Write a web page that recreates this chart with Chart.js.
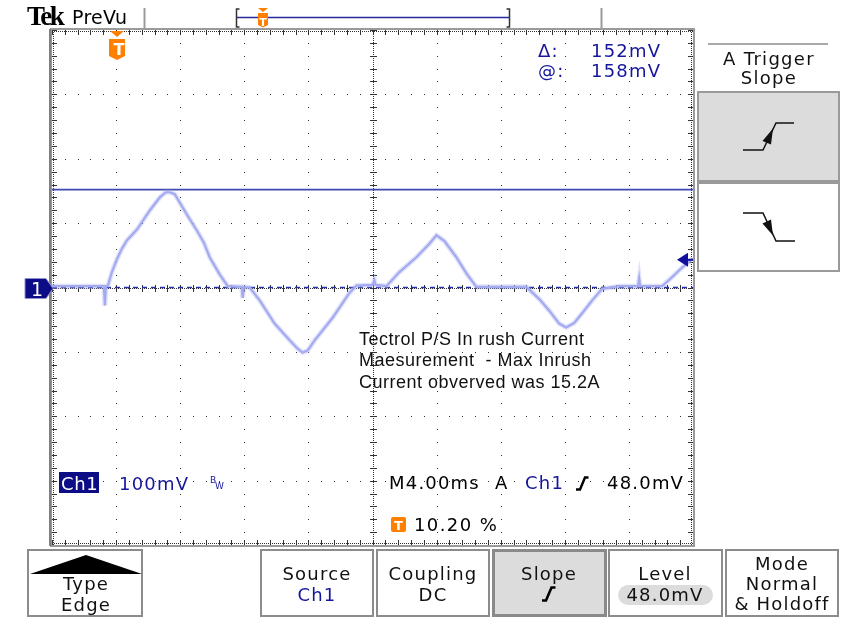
<!DOCTYPE html>
<html>
<head>
<meta charset="utf-8">
<script src="https://cdn.jsdelivr.net/npm/chart.js@4.4.0/dist/chart.umd.min.js"></script>
<style>
body{margin:0;background:#fff;width:861px;height:619px;overflow:hidden;position:relative;font-family:"DejaVu Sans",sans-serif}
#scope{position:absolute;left:0;top:0}
#deco{position:absolute;left:0;top:0}
.t{position:absolute;white-space:pre;line-height:1}
.btn{position:absolute;top:549px;height:68px;border:2px solid #8c8c8c;box-sizing:border-box;background:#fff}
</style>
</head>
<body>
<div class="btn" style="left:27px;width:116px"></div>
<div class="btn" style="left:260px;width:114px"></div>
<div class="btn" style="left:376px;width:114px"></div>
<div class="btn" style="left:492px;width:115px;background:#dcdcdc;border:3px solid #8a8a8a"></div>
<div class="btn" style="left:608px;width:115px"></div>
<div class="btn" style="left:725px;width:114px"></div>
<canvas id="scope" width="861" height="619"></canvas>
<svg id="deco" width="861" height="619">
  <line x1="144.5" y1="8" x2="144.5" y2="28" stroke="#9a9a9a" stroke-width="2"/>
  <line x1="601.5" y1="8" x2="601.5" y2="28" stroke="#9a9a9a" stroke-width="2"/>
  <path d="M239.5 9 H236.5 V27 H239.5" fill="none" stroke="#333" stroke-width="1.5"/>
  <path d="M506.5 9 H509.5 V27 H506.5" fill="none" stroke="#333" stroke-width="1.5"/>
  <line x1="237" y1="17.5" x2="509" y2="17.5" stroke="#2a2aa0" stroke-width="1.5"/>
  <path d="M258 8 H268 L263 12 Z" fill="#ff7f00"/>
  <path d="M258 13 H268 V25 L263 27.5 L258 25 Z" fill="#ff7f00"/>
  <line x1="708" y1="44" x2="828" y2="44" stroke="#a8a8a8" stroke-width="2"/>
  <rect x="698" y="92" width="141" height="89" fill="#dcdcdc" stroke="#9a9a9a" stroke-width="2"/>
  <rect x="698" y="183" width="141" height="88" fill="#fff" stroke="#9a9a9a" stroke-width="2"/>
  <polyline points="743,150 763,150 776,123 794,123" fill="none" stroke="#111" stroke-width="1.5"/>
  <polygon points="773,128.5 762.5,141 771,144.5" fill="#111"/>
  <polyline points="743,213 763,213 776,241 795,241" fill="none" stroke="#111" stroke-width="1.5"/>
  <polygon points="773,235.5 771,219.5 762.5,223.5" fill="#111"/>
  <path d="M30 574 L86 555 L142 574 Z" fill="#000"/>
  <rect x="618" y="585" width="95" height="20" rx="10" fill="#dcdcdc"/>
  <path d="M542 600.5 H546 L551.5 587.5 H555.5" fill="none" stroke="#000" stroke-width="2.6"/>
  <path d="M576 489.5 H580 L585 477.5 H588.5" fill="none" stroke="#000" stroke-width="2.4"/>
  <rect x="59" y="472" width="40" height="21" fill="#0c0c86"/>
  <rect x="391" y="517" width="15" height="15" rx="2" fill="#ff7f00"/>
</svg>
<script>
// Ch1 trace, time from the left edge of the screen (ms), voltage (mV)
const timeMs = [0, 1.74, 3.24, 3.30, 3.36, 3.49, 3.74, 4.05, 4.36, 4.67, 5.30, 6.11, 6.73, 7.10, 7.35, 7.66,
  8.16, 8.60, 9.03, 9.47, 9.84, 10.47, 10.97, 11.84, 11.90, 11.96, 12.34, 12.96, 13.89, 14.83, 15.33, 15.64,
  15.95, 16.39, 17.51, 18.57, 19.00, 20.00, 20.12, 20.19, 20.87, 21.68, 22.74, 23.55, 23.99, 24.49, 25.23,
  25.86, 26.48, 27.91, 29.60, 30.41, 31.03, 31.65, 32.09, 32.59, 33.08, 33.71, 34.33, 35.39, 36.57, 36.64,
  36.70, 38.07, 38.69, 39.32, 40.00]
const ch1mV = [2, 2, 2, -28, 2, 3, 24, 44, 60, 73, 90, 120, 140, 148, 148, 145,
  124, 106, 89, 70, 47, 20, 2, 1, -16, 1, 0, -20, -56, -82, -95, -101,
  -98, -82, -47, -8, 3, 4, 11, 4, 2, 24, 47, 68, 81, 72, 47,
  22, 1, 1, 1, -18, -36, -56, -62, -55, -40, -20, -2, 2, 2, 14,
  2, 2, 16, 31, 45]

const cursorA = 152      // solid cursor
const cursorB = 0        // dashed cursor
const trigTime = 4.08    // 10.20 % of 40 ms
const trigLevel = 43     // level arrow on the right edge

const msPerDiv = 4
const mvPerDiv = 100

const graticule = {
  id: 'graticule',
  beforeDatasetsDraw(chart) {
    const {ctx, chartArea: a, scales: {x, y}} = chart
    ctx.save()
    ctx.fillStyle = '#333'
    const minX = [], minY = []
    for (let i = 0; i <= 50; i++) minX.push(Math.round(x.getPixelForValue(i * msPerDiv / 5)))
    for (let j = 0; j <= 40; j++) minY.push(Math.round(y.getPixelForValue(-4 * mvPerDiv + j * mvPerDiv / 5)))
    // dotted major lines
    for (let i = 1; i < 10; i++) {
      const px = Math.round(x.getPixelForValue(i * msPerDiv))
      minY.forEach(py => ctx.fillRect(px, py, 1, 1))
    }
    for (let j = 1; j < 8; j++) {
      const py = Math.round(y.getPixelForValue(-4 * mvPerDiv + j * mvPerDiv))
      minX.forEach(px => ctx.fillRect(px, py, 1, 1))
    }
    // centre cross
    const cx = Math.round(x.getPixelForValue(5 * msPerDiv)), cy = Math.round(y.getPixelForValue(0))
    for (let py = a.top; py < a.bottom; py += 2) ctx.fillRect(cx, py, 1, 1)
    for (let px = a.left; px < a.right; px += 2) ctx.fillRect(px, cy, 1, 1)
    minY.forEach(py => ctx.fillRect(cx - 3, py, 7, 1))
    minX.forEach(px => ctx.fillRect(px, cy - 3, 1, 7))
    // edges
    const L = Math.round(a.left), R = Math.round(a.right), T = Math.round(a.top), B = Math.round(a.bottom)
    for (let px = L; px < R; px += 2) { ctx.fillRect(px, T + 1, 1, 1); ctx.fillRect(px, B - 2, 1, 1) }
    for (let py = T; py < B; py += 2) { ctx.fillRect(L + 1, py, 1, 1); ctx.fillRect(R - 2, py, 1, 1) }
    minX.forEach(px => { ctx.fillRect(px, T, 1, 5); ctx.fillRect(px, B - 5, 1, 5) })
    minY.forEach(py => { ctx.fillRect(L, py, 5, 1); ctx.fillRect(R - 5, py, 5, 1) })
    ctx.restore()
  },
  afterDatasetsDraw(chart) {
    const {ctx, chartArea: a, scales: {x, y}} = chart
    ctx.save()
    ctx.strokeStyle = '#9a9a9a'
    ctx.lineWidth = 2
    ctx.strokeRect(a.left - 1, a.top - 1, a.right - a.left + 2, a.bottom - a.top + 2)
    ctx.fillStyle = '#808080'
    ctx.fillRect(a.left - 3, a.top - 1, 2, a.bottom - a.top + 2)
    // trigger position marker
    const tx = Math.round(x.getPixelForValue(trigTime))
    ctx.fillStyle = '#ff7f00'
    ctx.beginPath()
    ctx.moveTo(tx - 7, a.top + 1); ctx.lineTo(tx + 7, a.top + 1); ctx.lineTo(tx, a.top + 7); ctx.closePath(); ctx.fill()
    ctx.beginPath()
    ctx.moveTo(tx - 8, a.top + 9); ctx.lineTo(tx + 8, a.top + 9); ctx.lineTo(tx + 8, a.top + 26)
    ctx.lineTo(tx, a.top + 30); ctx.lineTo(tx - 8, a.top + 26); ctx.closePath(); ctx.fill()
    // ground marker
    const gy = y.getPixelForValue(0) + 1
    ctx.fillStyle = '#0c0c86'
    ctx.strokeStyle = '#9090d0'
    ctx.lineWidth = 1
    ctx.beginPath()
    ctx.moveTo(25, gy - 10); ctx.lineTo(46, gy - 10); ctx.lineTo(53, gy); ctx.lineTo(46, gy + 10); ctx.lineTo(25, gy + 10)
    ctx.closePath(); ctx.fill(); ctx.stroke()
    // trigger level arrow
    const ly = y.getPixelForValue(trigLevel)
    ctx.fillStyle = '#10109a'
    ctx.beginPath()
    ctx.moveTo(a.right - 16, ly); ctx.lineTo(a.right - 5, ly - 7); ctx.lineTo(a.right - 5, ly + 7); ctx.closePath(); ctx.fill()
    ctx.fillRect(a.right - 6, ly - 1, 6, 2)
    ctx.restore()
  }
}

new Chart(document.getElementById('scope'), {
  type: 'line',
  data: {
    datasets: [
      {
        data: timeMs.map((t, i) => ({x: t, y: ch1mV[i]})),
        borderColor: 'rgba(165,172,242,0.35)',
        borderWidth: 5,
        pointRadius: 0,
        tension: 0
      },
      {
        data: timeMs.map((t, i) => ({x: t, y: ch1mV[i]})),
        borderColor: '#a2a9ef',
        borderWidth: 2.2,
        pointRadius: 0,
        tension: 0
      },
      {
        data: [{x: 0, y: cursorA}, {x: 10 * msPerDiv, y: cursorA}],
        borderColor: '#4048b4',
        borderWidth: 1.6,
        pointRadius: 0
      },
      {
        data: [{x: 0, y: cursorB}, {x: 10 * msPerDiv, y: cursorB}],
        borderColor: '#2430a8',
        borderWidth: 1.6,
        borderDash: [5, 4],
        pointRadius: 0
      }
    ]
  },
  options: {
    responsive: false,
    animation: false,
    events: [],
    layout: {padding: {left: 52, top: 30, right: 168, bottom: 74}},
    scales: {
      x: {type: 'linear', min: 0, max: 10 * msPerDiv, display: false},
      y: {type: 'linear', min: -4 * mvPerDiv, max: 4 * mvPerDiv, display: false}
    },
    plugins: {legend: {display: false}, tooltip: {enabled: false}}
  },
  plugins: [graticule]
})

// text, placed by baseline
function put(s, x, base, o) {
  o = o || {}
  const size = o.size || 18
  const el = document.createElement('div')
  el.className = 't'
  el.textContent = s
  el.style.fontSize = size + 'px'
  if (o.font) el.style.fontFamily = o.font
  if (o.bold) el.style.fontWeight = 'bold'
  el.style.color = o.color || '#111'
  el.style.letterSpacing = (o.ls !== undefined ? o.ls : 1.2) + 'px'
  el.style.top = (base - 0.846 * size) + 'px'
  el.style.left = x + 'px'
  if (o.center) el.style.transform = 'translateX(-50%)'
  document.body.appendChild(el)
}
const blue = '#16169c'
const sans = '"Liberation Sans", Arial, sans-serif'

put('Tek', 27, 26, {size: 27, font: '"Liberation Serif", serif', bold: true, ls: -2.4, color: '#000'})
put('PreVu', 72, 24, {size: 19, ls: 0.3, color: '#000'})
put('T', 263, 26, {size: 11, bold: true, center: true, color: '#fff', ls: 0})
put('T', 119, 56, {size: 16, bold: true, center: true, color: '#fff', ls: 0})

put('Δ:', 538, 57, {color: blue})
put('152mV', 591, 57, {color: blue})
put('@:', 538, 77, {color: blue})
put('158mV', 591, 77, {color: blue})

put('A Trigger', 769, 65, {center: true, ls: 1.3})
put('Slope', 769, 84, {center: true, ls: 1.3})

put('Tectrol P/S In rush Current', 359, 345, {font: sans, ls: 0.5})
put('Maesurement  - Max Inrush', 359, 366, {font: sans, ls: 0.5})
put('Current obverved was 15.2A', 359, 388, {font: sans, ls: 0.5})

put('1', 37, 296, {size: 19, center: true, color: '#fff', ls: 0})

put('Ch1', 61, 490, {color: '#fff', ls: 0.6})
put('100mV', 119, 490, {color: blue})
put('B', 210, 484, {size: 9, color: blue, ls: 0})
put('W', 215, 490, {size: 9, color: blue, ls: 0})
put('M4.00ms', 389, 489, {color: '#000'})
put('A', 495, 489, {color: '#000'})
put('Ch1', 525, 489, {color: blue})
put('48.0mV', 607, 489, {color: '#000'})
put('T', 398.5, 530, {size: 13, bold: true, center: true, color: '#fff', ls: 0})
put('10.20 %', 414, 531, {color: '#000', ls: 1.4})

put('Type', 86, 590, {center: true})
put('Edge', 86, 611, {center: true})
put('Source', 317, 580, {center: true})
put('Ch1', 317, 601, {center: true, color: blue})
put('Coupling', 433, 580, {center: true})
put('DC', 433, 601, {center: true})
put('Slope', 549, 580, {center: true})
put('Level', 665, 580, {center: true})
put('48.0mV', 665, 601, {center: true})
put('Mode', 782, 570, {center: true})
put('Normal', 782, 590, {center: true})
put('& Holdoff', 782, 610, {center: true})
</script>
</body>
</html>
